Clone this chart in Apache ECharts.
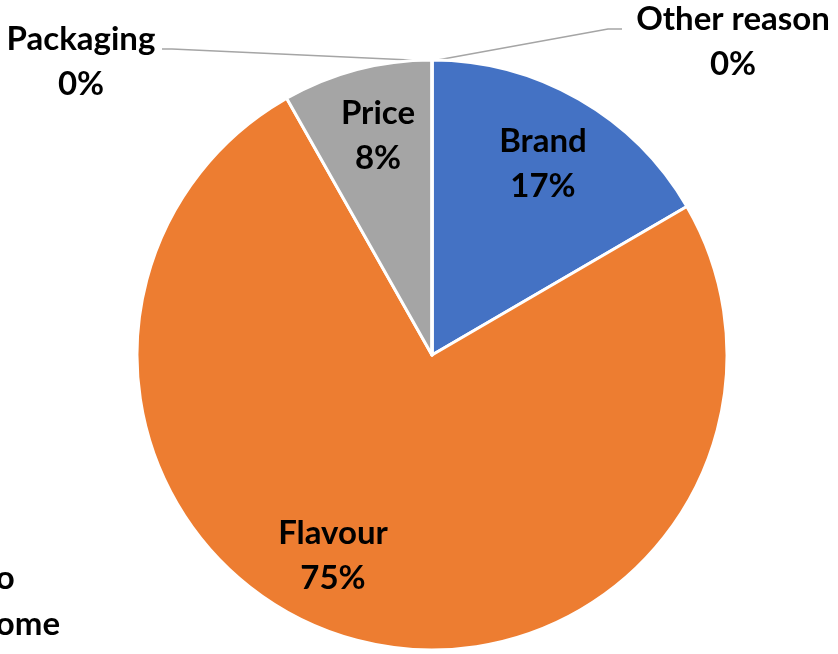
<!DOCTYPE html>
<html><head><meta charset="utf-8">
<script src="https://cdn.jsdelivr.net/npm/echarts@6/dist/echarts.min.js"></script>
<style>html,body{margin:0;padding:0;background:#fff}#c{width:838px;height:654px}</style>
</head><body><div id="c"></div>
<script>
const categories = ['Brand', 'Flavour', 'Price', 'Packaging', 'Other reason'];
const values = [16.6, 75.2, 8.2, 0, 0];
const colors = ['#4472C4', '#ED7D31', '#A5A5A5', '#FFC000', '#5B9BD5'];
const cutLabel = 'Bought to\nenjoy it at home';

const LABEL_POS = [
  {x: 543, y: 164},
  {x: 333, y: 556},
  {x: 378, y: 136},
  {x: 81, y: 62, line: [[432, 61], [172, 49], [162, 49]]},
  {x: 733, y: 42, line: [[432, 61], [608, 29], [622, 29]]}
];
const FONT = 'Lato, "Open Sans", sans-serif';
const FS = 33;

// place the cut-off label so that its second line ends at x = 60
const ctx = document.createElement('canvas').getContext('2d');
ctx.font = 'bold ' + FS + 'px ' + FONT;
const w2 = ctx.measureText(cutLabel.split('\n')[1]).width;
const cutX = 60 - w2 / 2;

const chart = echarts.init(document.getElementById('c'));
chart.setOption({
  animation: false,
  graphic: [{
    type: 'text',
    style: {
      text: cutLabel, x: cutX, y: 555, textAlign: 'center',
      font: 'bold ' + FS + 'px ' + FONT, fill: '#000', lineHeight: 46
    }
  }],
  series: [{
    type: 'pie',
    center: [432, 355],
    radius: 295,
    startAngle: 90,
    clockwise: true,
    percentPrecision: 0,
    avoidLabelOverlap: false,
    itemStyle: {borderColor: '#fff', borderWidth: 3},
    label: {
      show: true,
      formatter: '{b}\n{d}%',
      fontFamily: FONT,
      fontWeight: 'bold',
      fontSize: FS,
      lineHeight: 45,
      color: '#000',
      align: 'center'
    },
    labelLine: {show: true, lineStyle: {color: '#A5A5A5', width: 1.5}},
    labelLayout: function (p) {
      const pos = LABEL_POS[p.dataIndex];
      const r = {x: pos.x, y: pos.y, align: 'center', verticalAlign: 'middle'};
      r.labelLinePoints = pos.line || [[pos.x, pos.y], [pos.x, pos.y], [pos.x, pos.y]];
      return r;
    },
    data: categories.map((c, i) => ({
      name: c, value: values[i],
      itemStyle: {color: colors[i]},
      labelLine: {show: !!LABEL_POS[i].line}
    }))
  }]
});
</script></body></html>
